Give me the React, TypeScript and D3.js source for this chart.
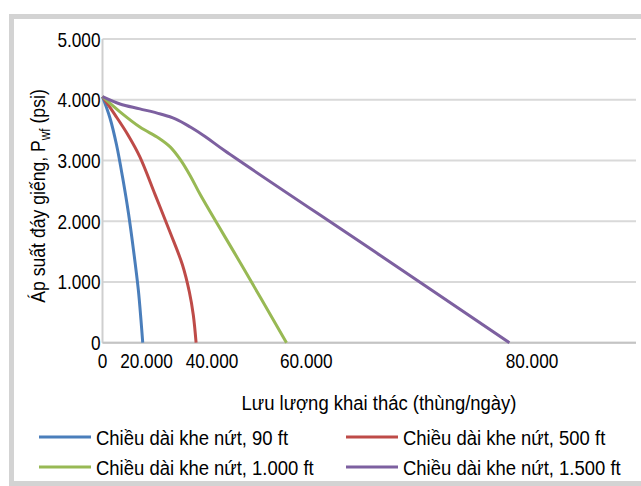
import React from "react";
import * as d3 from "d3";

// ---- data ----
const seriesNames = [
  "Chiều dài khe nứt, 90 ft",
  "Chiều dài khe nứt, 500 ft",
  "Chiều dài khe nứt, 1.000 ft",
  "Chiều dài khe nứt, 1.500 ft",
];
const seriesColors = ["#4a7ebb", "#be4b48", "#98b954", "#7d60a0"];

const rate90 = [0, 3400, 6400, 9200, 11800, 14100, 16300, 17500, 18300];
const pwf90 = [4050, 3700, 3255, 2710, 2135, 1525, 870, 375, 0];

const rate500 = [0, 5700, 11600, 17000, 22700, 27300, 31000, 33100, 34300, 35150];
const pwf500 = [4050, 3750, 3420, 3060, 2430, 1806, 1280, 835, 456, 0];

const rate1000 = [0, 7950, 17000, 23700, 27300, 30400, 33400, 36500, 46650, 55800];
const pwf1000 = [4050, 3800, 3550, 3370, 3220, 3010, 2745, 2430, 1230, 0];

const rate1500 = [0, 7950, 17000, 24300, 28800, 33400, 38000, 42800, 66500, 78000];
const pwf1500 = [4050, 3930, 3850, 3765, 3685, 3550, 3390, 3155, 1444, 0];

const xTicks = [0, 20000, 40000, 60000, 80000];
const yTicks = [0, 1000, 2000, 3000, 4000, 5000];

const xTitle = "Lưu lượng khai thác (thùng/ngày)";
const yTitleMain = "Áp suất đáy giếng, P";
const yTitleSub = "wf";
const yTitleEnd = " (psi)";

// ---- layout ----
const W = 641;
const H = 486;
const plot = { left: 102.5, right: 636, top: 39, bottom: 342.7 };
const xDomain = [0, 20000, 40000, 60000, 80000, 89200];
const xRangeFrac = [0, 0.0824, 0.2052, 0.382, 0.805, 1];
const FONT = "'Liberation Sans', Arial, sans-serif";
const FS = 21;
const SX_NUM = 0.82;
const SX_TXT = 0.88;

const fmt = d3
  .formatLocale({ thousands: ".", decimal: ",", grouping: [3], currency: ["", ""] })
  .format(",d");

function NText(props: {
  x: number;
  y: number;
  sx: number;
  anchor?: string;
  rotate?: number;
  children: React.ReactNode;
  size?: number;
}) {
  const { x, y, sx, anchor = "start", rotate = 0, children, size = FS } = props;
  return (
    <text
      transform={`translate(${x},${y}) rotate(${rotate}) scale(${sx},1)`}
      textAnchor={anchor}
      fontSize={size}
      fill="#000"
    >
      {children}
    </text>
  );
}

export default function App() {
  const pw = plot.right - plot.left;
  const x = d3
    .scaleLinear()
    .domain(xDomain)
    .range(xRangeFrac.map((f) => plot.left + f * pw));
  const y = d3.scaleLinear().domain([0, 5000]).range([plot.bottom, plot.top]);

  const series = [
    { name: seriesNames[0], color: seriesColors[0], xs: rate90, ys: pwf90 },
    { name: seriesNames[1], color: seriesColors[1], xs: rate500, ys: pwf500 },
    { name: seriesNames[2], color: seriesColors[2], xs: rate1000, ys: pwf1000 },
    { name: seriesNames[3], color: seriesColors[3], xs: rate1500, ys: pwf1500 },
  ];

  const line = d3
    .line<[number, number]>()
    .x((d) => x(d[0]))
    .y((d) => y(d[1]))
    .curve(d3.curveCatmullRom.alpha(0.5));

  const legendCols = [39, 346];
  const legendRows = [437, 467];

  return (
    <svg
      width={W}
      height={H}
      style={{ position: "absolute", left: 0, top: 0, background: "#fff" }}
      fontFamily={FONT}
    >
      {/* frame */}
      <rect x={11.5} y={16.5} width={W + 20} height={467} fill="#fff" stroke="#d3d3d3" strokeWidth={5} />

      {/* gridlines */}
      {yTicks.map((t) => (
        <line key={t} x1={plot.left} x2={plot.right} y1={y(t)} y2={y(t)} stroke="#d9d9d9" strokeWidth={2} />
      ))}
      {/* axes */}
      <line x1={plot.left} x2={plot.left} y1={plot.top} y2={plot.bottom} stroke="#cfcfcf" strokeWidth={2} />
      <line x1={plot.left} x2={plot.right} y1={plot.bottom} y2={plot.bottom} stroke="#c4c4c4" strokeWidth={2} />

      {/* y tick labels */}
      {yTicks.map((t) => (
        <NText key={t} x={plot.left - 2} y={y(t) + 7.5} sx={SX_NUM} anchor="end">
          {fmt(t)}
        </NText>
      ))}
      {/* x tick labels */}
      {xTicks.map((t) => (
        <NText key={t} x={x(t)} y={plot.bottom + 25} sx={SX_NUM} anchor="middle">
          {fmt(t)}
        </NText>
      ))}

      {/* series */}
      {series.map((s) => (
        <path
          key={s.name}
          d={line(s.xs.map((v, i) => [v, s.ys[i]] as [number, number])) || ""}
          fill="none"
          stroke={s.color}
          strokeWidth={3}
          strokeLinejoin="round"
        />
      ))}

      {/* axis titles */}
      <NText x={379} y={410} sx={SX_TXT} anchor="middle">
        {xTitle}
      </NText>
      <NText x={45} y={196} sx={0.84} anchor="middle" rotate={-90}>
        {yTitleMain}
        <tspan fontSize={14} dy={5}>{yTitleSub}</tspan>
        <tspan dy={-5}>{yTitleEnd}</tspan>
      </NText>

      {/* legend */}
      {series.map((s, i) => {
        const cx = legendCols[i % 2];
        const cy = legendRows[Math.floor(i / 2)];
        return (
          <g key={s.name}>
            <line x1={cx} x2={cx + 52} y1={cy} y2={cy} stroke={s.color} strokeWidth={3} />
            <NText x={cx + 57} y={cy + 7.5} sx={SX_TXT}>
              {s.name}
            </NText>
          </g>
        );
      })}
    </svg>
  );
}
